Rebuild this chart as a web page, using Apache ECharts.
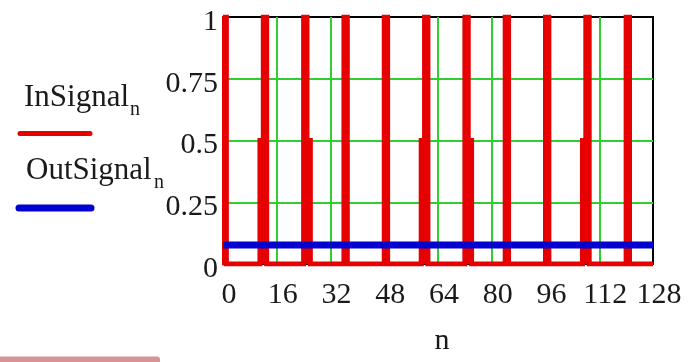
<!DOCTYPE html>
<html>
<head>
<meta charset="utf-8">
<script src="https://cdn.jsdelivr.net/npm/echarts@6/dist/echarts.min.js"></script>
<style>
  html, body { margin: 0; padding: 0; background: #fff; }
  #chart { width: 690px; height: 362px; }
</style>
</head>
<body>
<div id="chart"></div>
<script>
// ---- data ----
var nTicks = [0, 16, 32, 48, 64, 80, 96, 112, 128];
var yTicks = [0, 0.25, 0.5, 0.75, 1];

// InSignal_n for n = 0..128
var inSignal = [
  1, 0, 0, 0, 0, 0, 0, 0, 0, 0, 0, 0.5, 1, 0, 0, 0,
  0, 0, 0, 0, 0, 0, 0, 0, 1, 0.5, 0, 0, 0, 0, 0, 0,
  0, 0, 0, 0, 1, 0, 0, 0, 0, 0, 0, 0, 0, 0, 0, 0,
  1, 0, 0, 0, 0, 0, 0, 0, 0, 0, 0, 0.5, 1, 0, 0, 0,
  0, 0, 0, 0, 0, 0, 0, 0, 1, 0.5, 0, 0, 0, 0, 0, 0,
  0, 0, 0, 0, 1, 0, 0, 0, 0, 0, 0, 0, 0, 0, 0, 0,
  1, 0, 0, 0, 0, 0, 0, 0, 0, 0, 0, 0.5, 1, 0, 0, 0,
  0, 0, 0, 0, 0, 0, 0, 0, 1, 0, 0, 0, 0, 0, 0, 0,
  0
];
// OutSignal_n : constant level across n = 0..128
var outN = [0, 128];
var outSignal = [0.077, 0.077];

var seriesNames = ['InSignal', 'OutSignal'];
var subscript = 'n';
var axisName = 'n';

// ---- build options ----
var FONT = 'Liberation Serif';
var TXT = '#1a1a1a';
var RED = '#e60000';
var BLUE = '#0000d0';
var GREEN = '#2fcf2f';
var NONE = 'rgba(0,0,0,0)';

var inData = inSignal.map(function (v, i) { return [i, v]; });
var outData = outN.map(function (x, i) { return [x, outSignal[i]]; });

var xSplitColors = nTicks.map(function (t, i) { return (i === 0 || i === nTicks.length - 1) ? NONE : GREEN; });
var ySplitColors = yTicks.map(function (t, i) { return (i === 0 || i === yTicks.length - 1) ? NONE : GREEN; });

var chart = echarts.init(document.getElementById('chart'), null, { renderer: 'canvas' });
chart.setOption({
  animation: false,
  backgroundColor: '#fff',
  grid: {
    left: 223, right: 37, top: 17, bottom: 98,
    show: true, borderColor: '#000', borderWidth: 2,
    backgroundColor: 'rgba(0,0,0,0)',
    outerBoundsMode: 'none'
  },
  xAxis: {
    type: 'value', min: nTicks[0], max: nTicks[nTicks.length - 1], interval: 16,
    name: axisName, nameLocation: 'middle', nameGap: 62,
    nameTextStyle: { fontFamily: FONT, fontSize: 30, color: TXT, padding: [0, 0, 0, 8] },
    axisLine: { show: false },
    axisTick: { show: false },
    axisLabel: {
      fontFamily: FONT, fontSize: 30, color: TXT, margin: 16,
      padding: [0, 0, 0, 12], hideOverlap: false,
      showMinLabel: true, showMaxLabel: true
    },
    splitLine: { show: true, lineStyle: { color: xSplitColors, width: 2 } }
  },
  yAxis: {
    type: 'value', min: yTicks[0], max: yTicks[yTicks.length - 1], interval: 0.25,
    axisLine: { show: true, lineStyle: { color: RED, width: 3 } },
    axisTick: { show: false },
    axisLabel: {
      fontFamily: FONT, fontSize: 30, color: TXT, margin: 5,
      verticalAlign: 'top', lineHeight: 10,
      showMinLabel: true, showMaxLabel: true
    },
    splitLine: { show: true, lineStyle: { color: ySplitColors, width: 2 } }
  },
  series: [
    {
      name: seriesNames[0], type: 'line', data: inData, step: 'end',
      showSymbol: false, symbol: 'none',
      lineStyle: { color: RED, width: 5, join: 'miter' },
      areaStyle: { color: RED, opacity: 1, origin: 0 },
      itemStyle: { color: RED }
    },
    {
      name: seriesNames[1], type: 'line', data: outData,
      showSymbol: false, symbol: 'none',
      lineStyle: { color: BLUE, width: 7 },
      itemStyle: { color: BLUE }
    }
  ],
  graphic: [
    { type: 'text', x: 24, y: 97.5, style: { text: seriesNames[0], fontFamily: FONT, fontSize: 31, fill: TXT, verticalAlign: 'middle', align: 'left' } },
    { type: 'text', x: 130, y: 110, style: { text: subscript, fontFamily: FONT, fontSize: 20, fill: TXT, verticalAlign: 'middle', align: 'left' } },
    { type: 'line', shape: { x1: 20, y1: 133.5, x2: 90, y2: 133.5 }, style: { stroke: RED, lineWidth: 5, lineCap: 'round' } },
    { type: 'text', x: 26, y: 171, style: { text: seriesNames[1], fontFamily: FONT, fontSize: 31, fill: TXT, verticalAlign: 'middle', align: 'left' } },
    { type: 'text', x: 154, y: 183, style: { text: subscript, fontFamily: FONT, fontSize: 20, fill: TXT, verticalAlign: 'middle', align: 'left' } },
    { type: 'line', shape: { x1: 19, y1: 208, x2: 91, y2: 208 }, style: { stroke: BLUE, lineWidth: 7, lineCap: 'round' } },
    { type: 'rect', shape: { x: 0, y: 356.5, width: 160, height: 8, r: [0, 3, 0, 0] }, style: { fill: '#d89494' } }
  ]
});
</script>
</body>
</html>
